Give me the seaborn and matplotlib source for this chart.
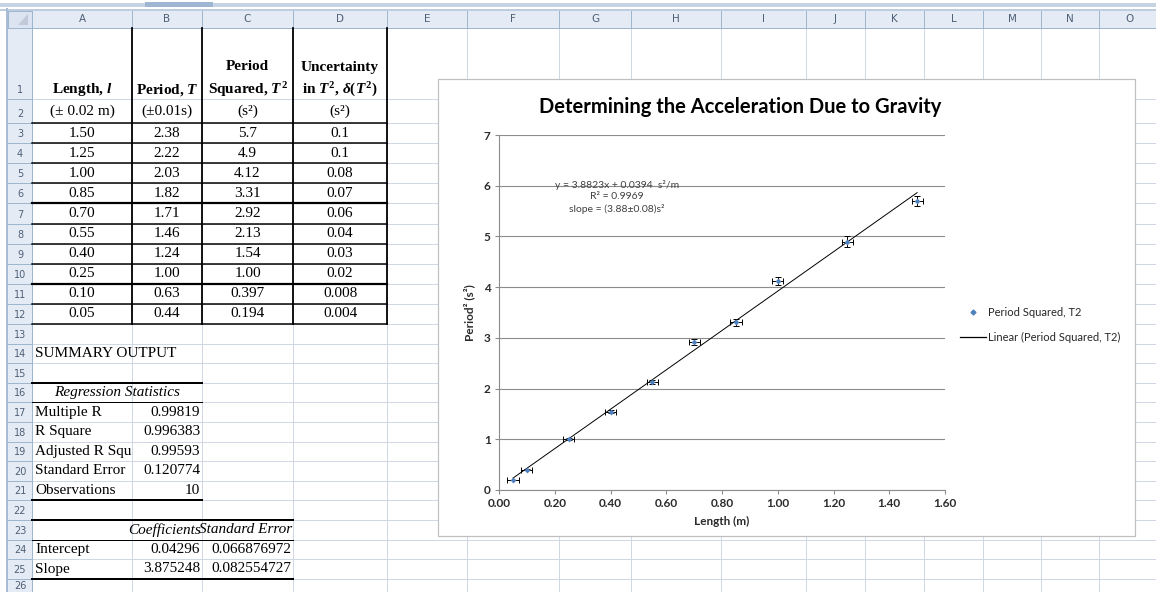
import numpy as np
import pandas as pd
import seaborn as sns
import matplotlib
matplotlib.use("Agg")
import matplotlib.pyplot as plt
from matplotlib.patches import Rectangle, Polygon
from matplotlib.lines import Line2D

# ---------------- data ----------------
length_m = [1.50, 1.25, 1.00, 0.85, 0.70, 0.55, 0.40, 0.25, 0.10, 0.05]
period_s = [2.38, 2.22, 2.03, 1.82, 1.71, 1.46, 1.24, 1.00, 0.63, 0.44]
period_sq = [5.7, 4.9, 4.12, 3.31, 2.92, 2.13, 1.54, 1.00, 0.397, 0.194]
uncert_sq = [0.1, 0.1, 0.08, 0.07, 0.06, 0.04, 0.03, 0.02, 0.008, 0.004]
length_err = 0.02

length_txt = ["1.50", "1.25", "1.00", "0.85", "0.70", "0.55", "0.40", "0.25", "0.10", "0.05"]
period_txt = ["2.38", "2.22", "2.03", "1.82", "1.71", "1.46", "1.24", "1.00", "0.63", "0.44"]
period_sq_txt = ["5.7", "4.9", "4.12", "3.31", "2.92", "2.13", "1.54", "1.00", "0.397", "0.194"]
uncert_txt = ["0.1", "0.1", "0.08", "0.07", "0.06", "0.04", "0.03", "0.02", "0.008", "0.004"]

reg_stat_labels = ["Multiple R", "R Square", "Adjusted R Squ", "Standard Error", "Observations"]
reg_stat_values = ["0.99819", "0.996383", "0.99593", "0.120774", "10"]
coef_labels = ["Intercept", "Slope"]
coef_values = ["0.04296", "3.875248"]
coef_se = ["0.066876972", "0.082554727"]

col_letters = list("ABCDEFGHIJKLMNO")
x_ticks = [0.00, 0.20, 0.40, 0.60, 0.80, 1.00, 1.20, 1.40, 1.60]
y_ticks = [0, 1, 2, 3, 4, 5, 6, 7]

chart_title = "Determining the Acceleration Due to Gravity"
x_label = "Length (m)"
y_label = "Period² (s²)"
fit_text = "y = 3.8823x + 0.0394  s²/m\nR² = 0.9969\nslope = (3.88±0.08)s²"
legend_labels = ["Period Squared, T2", "Linear (Period Squared, T2)"]

df = pd.DataFrame({"Length": length_m, "PeriodSq": period_sq, "Uncert": uncert_sq})

# ---------------- style ----------------
plt.rcParams["mathtext.fontset"] = "custom"
plt.rcParams["mathtext.rm"] = "Liberation Serif:bold"
plt.rcParams["mathtext.it"] = "Liberation Serif:italic:bold"
plt.rcParams["mathtext.bf"] = "Liberation Serif:bold"

W, H = 1156, 592
fig = plt.figure(figsize=(W / 100, H / 100), dpi=100)
fig.patch.set_facecolor("white")

bg = fig.add_axes([0, 0, 1, 1])
bg.set_xlim(0, W)
bg.set_ylim(H, 0)
bg.axis("off")

PX = 0.72  # one pixel in points
SERIF = "Liberation Serif"
FS = 11
grid_c = "#d0d7e5"
head_fill = "#e4ebf5"
head_line = "#9eb6ce"
head_txt = "#4f5f76"

col_edges = [32, 132, 202, 293, 387, 467, 559, 631, 721, 806, 865, 924, 983, 1041, 1099, 1160]
row_edges = [28, 99, 123] + [123 + 20.1 * k for k in range(1, 11)] + [324 + 19.6 * k for k in range(1, 15)]

def rc(r):
    return (row_edges[r - 1] + row_edges[r]) / 2

def cc(c):
    return (col_edges[c] + col_edges[c + 1]) / 2

# top bars
bg.add_patch(Rectangle((0, 3), W, 4, fc="#c5d3e4", ec="none", zorder=1))
bg.add_patch(Rectangle((145, 2), 68, 5, fc="#9fb6d3", ec="none", zorder=1))
bg.plot([0, W], [9.5, 9.5], color="#a8bcd5", lw=1.5 * PX, zorder=1)
# left bar
bg.plot([7, 7], [9, H], color="#a9bcd6", lw=2 * PX, zorder=1)

# sheet gridlines
for x in col_edges[1:]:
    bg.plot([x, x], [28, H], color=grid_c, lw=PX, zorder=1)
for y in row_edges:
    bg.plot([32, W], [y, y], color=grid_c, lw=PX, zorder=1)

# column header band
bg.add_patch(Rectangle((8, 11), W - 8, 17, fc=head_fill, ec="none", zorder=2))
bg.plot([8, W], [28, 28], color=head_line, lw=PX, zorder=2)
for x in col_edges:
    bg.plot([x, x], [11, 28], color=head_line, lw=PX, zorder=2)
for i, L in enumerate(col_letters):
    bg.text(cc(i), 19.5, L, ha="center", va="center", fontsize=7.5, color=head_txt,
            family="DejaVu Sans", zorder=3)
# corner
bg.add_patch(Rectangle((8, 11), 24, 17, fc="#dbe4f0", ec=head_line, lw=PX, zorder=2))
bg.add_patch(Polygon([[28, 14], [28, 25], [18, 25]], closed=True, fc="#c0cad8", ec="none", zorder=3))

# row header band
bg.add_patch(Rectangle((8, 28), 24, H - 28, fc=head_fill, ec="none", zorder=2))
bg.plot([32, 32], [28, H], color=head_line, lw=PX, zorder=2)
for k, y in enumerate(row_edges):
    bg.plot([8, 32], [y, y], color=head_line, lw=PX, zorder=2)
n_rows = len(row_edges) - 1
for r in range(1, n_rows + 1):
    yy = min(row_edges[r] - 9, 586)
    bg.text(20, yy, str(r), ha="center", va="center", fontsize=7,
            color=head_txt, family="DejaVu Sans", zorder=3)

# ---------- data table ----------
for x in [132, 202, 293, 387]:
    bg.plot([x, x], [28, row_edges[12]], color="black", lw=1.8 * PX, zorder=4)
for r in range(2, 13):
    bg.plot([32, 387], [row_edges[r], row_edges[r]], color="black",
            lw=(2.2 if r in (6, 10) else 1.5) * PX, zorder=4)

def t(x, y, s, ha="center", **kw):
    bg.text(x, y, s, ha=ha, va="center", family=SERIF, fontsize=FS, color="black", zorder=5, **kw)

# headers row 1
t(cc(0), 90, r"Length, $l$", fontweight="bold")
t(cc(1), 90, r"Period, $T$", fontweight="bold")
t(cc(2), 67, "Period", fontweight="bold")
t(cc(2), 90, r"Squared, $T^{2}$", fontweight="bold")
t(cc(3), 67, "Uncertainty", fontweight="bold")
t(cc(3), 90, r"in $T^{2}$, $\delta(T^{2})$", fontweight="bold")
# row 2
t(cc(0), rc(2), "(± 0.02 m)")
t(cc(1), rc(2), "(±0.01s)")
t(cc(2), rc(2), "(s²)")
t(cc(3), rc(2), "(s²)")
for i in range(len(length_txt)):
    r = 3 + i
    t(cc(0), rc(r), length_txt[i])
    t(cc(1), rc(r), period_txt[i])
    t(cc(2), rc(r), period_sq_txt[i])
    t(cc(3), rc(r), uncert_txt[i])

# ---------- summary output ----------
t(35, rc(14), "SUMMARY OUTPUT", ha="left")
t(117, rc(16), "Regression Statistics", style="italic")
for i, (lab, val) in enumerate(zip(reg_stat_labels, reg_stat_values)):
    r = 17 + i
    t(35, rc(r), lab, ha="left")
    t(200, rc(r), val, ha="right")
t(201, rc(23), "Coefficients", ha="right", style="italic")
t(292, rc(23), "Standard Error", ha="right", style="italic")
for i, lab in enumerate(coef_labels):
    r = 24 + i
    t(35, rc(r), lab, ha="left")
    t(200, rc(r), coef_values[i], ha="right")
    t(291, rc(r), coef_se[i], ha="right")

bg.plot([32, 202], [row_edges[15], row_edges[15]], color="black", lw=2 * PX, zorder=4)
bg.plot([32, 202], [row_edges[16], row_edges[16]], color="black", lw=1 * PX, zorder=4)
bg.plot([32, 202], [row_edges[21], row_edges[21]], color="black", lw=2 * PX, zorder=4)
bg.plot([32, 293], [row_edges[22], row_edges[22]], color="black", lw=2 * PX, zorder=4)
bg.plot([32, 293], [row_edges[23], row_edges[23]], color="black", lw=1 * PX, zorder=4)
bg.plot([32, 293], [row_edges[25], row_edges[25]], color="black", lw=2 * PX, zorder=4)

# ---------- chart frame ----------
bg.add_patch(Rectangle((438, 79), 697, 457, fc="white", ec="#bfbfbf", lw=1.2 * PX, zorder=6))

# ---------- chart ----------
AX_L, AX_R, AX_T, AX_B = 499, 945, 135, 490
ax = fig.add_axes([AX_L / W, 1 - AX_B / H, (AX_R - AX_L) / W, (AX_B - AX_T) / H])
ax.set_facecolor("none")

blue = "#4F81BD"
ax.errorbar(df["Length"], df["PeriodSq"], xerr=length_err, yerr=df["Uncert"], fmt="none",
            ecolor="black", elinewidth=0.7, capsize=2.2, capthick=0.7, zorder=3)
sns.regplot(data=df, x="Length", y="PeriodSq", scatter=False, ci=None, truncate=True,
            color="black", line_kws={"lw": 0.7}, ax=ax)
sns.scatterplot(data=df, x="Length", y="PeriodSq", marker="D", s=9, color=blue,
                edgecolor=blue, linewidth=0, zorder=4, legend=False, ax=ax)

ax.set_xlim(0, 1.6)
ax.set_ylim(0, 7)
ax.set_xticks(x_ticks)
ax.set_xticklabels([f"{v:.2f}" for v in x_ticks])
ax.set_yticks(y_ticks)
ax.set_yticklabels([str(v) for v in y_ticks])
ax.yaxis.grid(True, color="#8c8c8c", lw=0.8)
ax.xaxis.grid(False)
ax.set_axisbelow(True)
for s in ["top", "right"]:
    ax.spines[s].set_visible(False)
for s in ["left", "bottom"]:
    ax.spines[s].set_color("#8c8c8c")
    ax.spines[s].set_linewidth(0.8)
ax.tick_params(axis="both", length=3, width=0.8, color="#8c8c8c", pad=3,
               labelsize=8.5, labelcolor="#2b2b2b")
for lab in ax.get_xticklabels() + ax.get_yticklabels():
    lab.set_fontfamily("Lato")
    lab.set_fontweight("bold")

ax.set_title(chart_title, family="Lato", fontweight="bold", fontsize=14.5, color="black",
             x=(740 - AX_L) / (AX_R - AX_L), pad=16)
ax.set_xlabel(x_label, family="Lato", fontweight="bold", fontsize=8.5, color="#2b2b2b", labelpad=5)
ax.set_ylabel(y_label, family="Lato", fontweight="bold", fontsize=8.5, color="#2b2b2b", labelpad=6)

ax.text((617 - AX_L) / (AX_R - AX_L), (AX_B - 197) / (AX_B - AX_T), fit_text,
        transform=ax.transAxes, ha="center", va="center", family="Lato", fontsize=7.5,
        color="#404040", linespacing=1.35, zorder=5)

handles = [Line2D([], [], marker="D", ls="none", color=blue, ms=2.5),
           Line2D([], [], color="black", lw=0.9)]
fig.legend(handles, legend_labels, loc="center left",
           bbox_to_anchor=(954 / W, 1 - 325 / H), frameon=False,
           prop={"family": "Lato", "size": 8}, handlelength=2.4, handletextpad=0.15,
           labelspacing=1.2, borderpad=0, labelcolor="#262626")

fig.savefig("out.png", dpi=100, facecolor="white")
